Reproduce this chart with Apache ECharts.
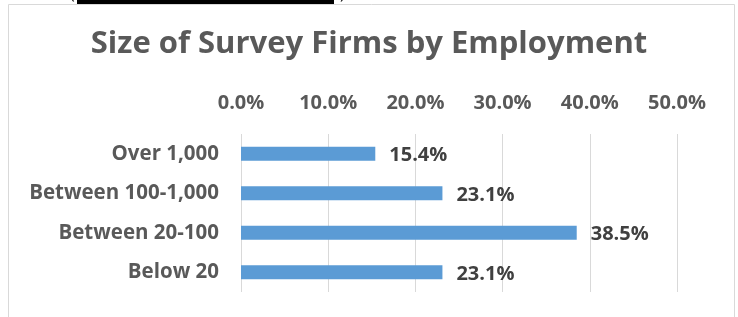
<!DOCTYPE html>
<html>
<head>
<meta charset="utf-8">
<script src="https://cdn.jsdelivr.net/npm/echarts@6/dist/echarts.min.js"></script>
<style>
  html, body { margin: 0; padding: 0; background: #fff; }
  #chart { width: 738px; height: 317px; }
</style>
</head>
<body>
<div id="chart"></div>
<script>
// data
var categories = ['Over 1,000', 'Between 100-1,000', 'Between 20-100', 'Below 20'];
var shares = [15.4, 23.1, 38.5, 23.1];
var tickMin = 0;
var tickMax = 50;
var tickStep = 10;

var chart = echarts.init(document.getElementById('chart'));

var font = 'Open Sans';

var option = {
    backgroundColor: '#fff',
    animation: false,
    title: {
        text: 'Size of Survey Firms by Employment',
        left: 'center',
        top: 24,
        textStyle: {
            fontFamily: font,
            fontSize: 31,
            fontWeight: 'bold',
            color: '#595959'
        }
    },
    // outer border and the blacked-out caption above it
    graphic: [
        {
            type: 'rect',
            shape: { x: 8.5, y: 4.5, width: 726, height: 330 },
            style: { fill: 'none', stroke: '#d9d9d9', lineWidth: 1 }
        },
        {
            type: 'rect',
            shape: { x: 77, y: 0, width: 257, height: 4 },
            style: { fill: '#000' }
        },
        {
            type: 'text',
            left: 70, top: -14,
            style: { text: '(', font: '16px "Open Sans"', fill: '#000' }
        },
        {
            type: 'text',
            left: 340, top: -14,
            style: { text: ')', font: '16px "Open Sans"', fill: '#000' }
        }
    ],
    grid: {
        left: 241,
        right: 61,
        top: 134,
        bottom: 25
    },
    xAxis: {
        type: 'value',
        position: 'top',
        min: tickMin,
        max: tickMax,
        interval: tickStep,
        axisLine: { show: false },
        axisTick: { show: false },
        axisLabel: {
            margin: 21,
            fontFamily: font,
            fontSize: 20,
            fontWeight: 'bold',
            color: '#595959',
            formatter: function (v) { return v.toFixed(1) + '%'; }
        },
        splitLine: { lineStyle: { color: '#d9d9d9', width: 1 } }
    },
    yAxis: {
        type: 'category',
        inverse: true,
        data: categories,
        axisLine: { show: false },
        axisTick: { show: false },
        axisLabel: {
            margin: 22,
            fontFamily: font,
            fontSize: 20.5,
            fontWeight: 'bold',
            color: '#595959'
        }
    },
    series: [{
        type: 'bar',
        data: shares,
        barWidth: 14,
        itemStyle: { color: '#5b9bd5' },
        label: {
            show: true,
            position: 'right',
            distance: 14,
            offset: [0, 2],
            fontFamily: font,
            fontSize: 20,
            fontWeight: 'bold',
            color: '#404040',
            formatter: function (p) { return p.value.toFixed(1) + '%'; }
        }
    }]
};

chart.setOption(option);
</script>
</body>
</html>
